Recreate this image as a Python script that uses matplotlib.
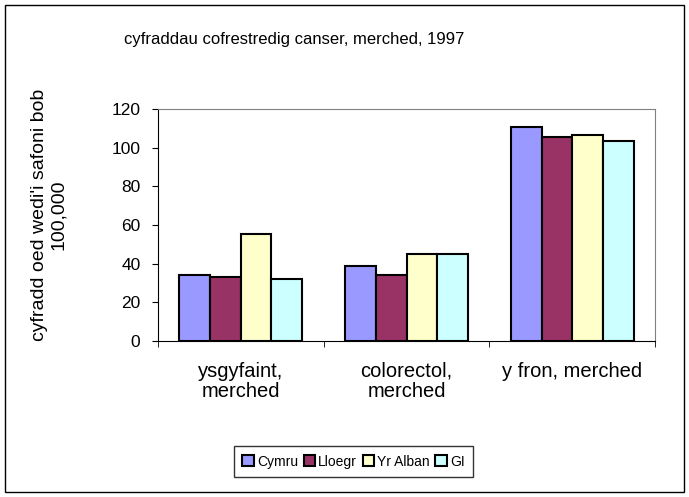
import numpy as np
import matplotlib
matplotlib.use('Agg')
import matplotlib.pyplot as plt

plt.rcParams['font.family'] = ['Liberation Sans', 'DejaVu Sans']

# data
categories = ['ysgyfaint,\nmerched', 'colorectol,\nmerched', 'y fron, merched']
series = ['Cymru', 'Lloegr', 'Yr Alban', 'GI']
cymru = [34, 39, 110.5]
lloegr = [33, 34, 105.5]
yr_alban = [55.5, 45, 106.5]
gi = [32, 45, 103.5]
colors = ['#9999ff', '#993366', '#ffffcc', '#ccffff']

values = [cymru, lloegr, yr_alban, gi]

fig = plt.figure(figsize=(6.89, 4.97), dpi=100)
ax = fig.add_axes([0.229, 0.314, 0.722, 0.467])

x = np.arange(len(categories))
width = 0.185
for i, (name, vals) in enumerate(zip(series, values)):
    ax.bar(x + (i - 1.5) * width, vals, width, color=colors[i],
           edgecolor='black', linewidth=1.5, label=name)

ax.set_xlim(-0.5, len(categories) - 0.5)
ax.set_ylim(0, 120)
ax.set_yticks(range(0, 121, 20))
ax.set_xticks(x)
ax.set_xticklabels(categories, fontsize=14.5, linespacing=1.05)
ax.set_xticks(np.arange(-0.5, len(categories), 1), minor=True)
ax.tick_params(axis='x', which='major', length=0, pad=15)
ax.tick_params(axis='x', which='minor', length=4.5, color='black')
ax.tick_params(axis='y', labelsize=12.5, length=4.5, pad=8, color='black')

for side in ['top', 'right']:
    ax.spines[side].set_color('#808080')
for side in ['left', 'bottom']:
    ax.spines[side].set_color('black')

fig.text(0.071, 0.567, "cyfradd oed wedi'i safoni bob\n100,000", rotation=90,
         ha='center', va='center', multialignment='center', fontsize=14, linespacing=1.1)
fig.text(0.427, 0.92, 'cyfraddau cofrestredig canser, merched, 1997',
         ha='center', va='center', fontsize=12)

leg = ax.legend(loc='center', bbox_to_anchor=(0.513, 0.0714), bbox_transform=fig.transFigure,
                ncol=4, frameon=True, fancybox=False, fontsize=10,
                handlelength=0.85, handleheight=0.85, handletextpad=0.2,
                columnspacing=0.4, borderpad=0.6, borderaxespad=0)
leg.get_frame().set_edgecolor('black')
leg.get_frame().set_linewidth(1)

# outer chart border
fig.patches.append(plt.Rectangle((0.007, 0.01), 0.986, 0.98, transform=fig.transFigure,
                                 fill=False, edgecolor='black', linewidth=1))

plt.savefig('out.png', dpi=100)
